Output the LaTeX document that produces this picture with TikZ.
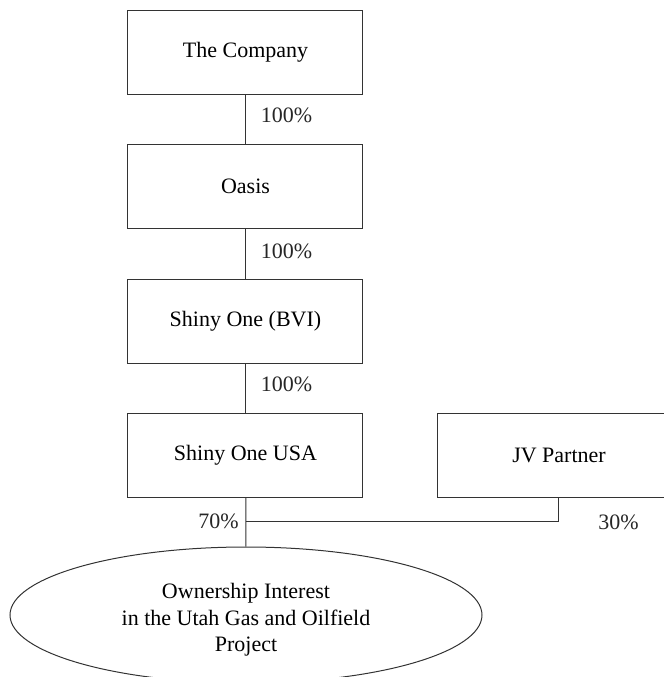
\documentclass[tikz,border=0pt]{standalone}
\usepackage{fontspec}
\setmainfont{Liberation Serif}
\usepackage{tikz}
\usetikzlibrary{shapes.geometric, positioning}

\begin{document}
\begin{tikzpicture}[
    x=0.5pt, y=-0.5pt,
    font=\fontsize{11}{13.3}\selectfont,
    entity/.style={rectangle, draw=black!80, line width=0.5pt, fill=white, minimum width=117.5pt, minimum height=42pt, inner sep=0pt, align=center},
    project/.style={ellipse, draw=black!80, line width=0.5pt, minimum width=236pt, minimum height=68pt, inner sep=0pt, align=center},
    pct/.style={inner sep=0pt, text=black!85},
    link/.style={draw=black!80, line width=0.5pt},
]
\useasboundingbox (0,0) rectangle (664,677);

% Entities
\node[entity] (company) at (245.5,52) {The Company};
\node[entity] (oasis) at (245.5,186.5) {Oasis};
\node[entity] (bvi) at (245.5,321) {Shiny One (BVI)};
\node[entity] (usa) at (245.5,455) {Shiny One USA};
\node[entity, minimum width=121pt] (jv) at (559,455) {JV Partner};

% Project
\node[project] (utah) at (246,615) {\raisebox{-2.5pt}[\height][\depth]{\begin{tabular}{@{}c@{}}Ownership Interest\\in the Utah Gas and Oilfield\\Project\end{tabular}}};

% Junction
\coordinate (join) at (246,521);

% Edges
\draw[link] (company) -- node[pct, right, xshift=7.5pt, pos=0.42] (p1) {100\%} (oasis);
\draw[link] (oasis) -- node[pct, right, xshift=7.5pt, pos=0.45] (p2) {100\%} (bvi);
\draw[link] (bvi) -- node[pct, right, xshift=7.5pt, pos=0.42] (p3) {100\%} (usa);
\draw[link] (usa) -- (join) -- (utah);
\draw[link] (jv) |- (join);

% Shares
\node[pct, left, xshift=-3.5pt] (p70) at (join) {70\%};
\node[pct, anchor=west] (p30) at (598,522) {30\%};

\end{tikzpicture}
\end{document}
